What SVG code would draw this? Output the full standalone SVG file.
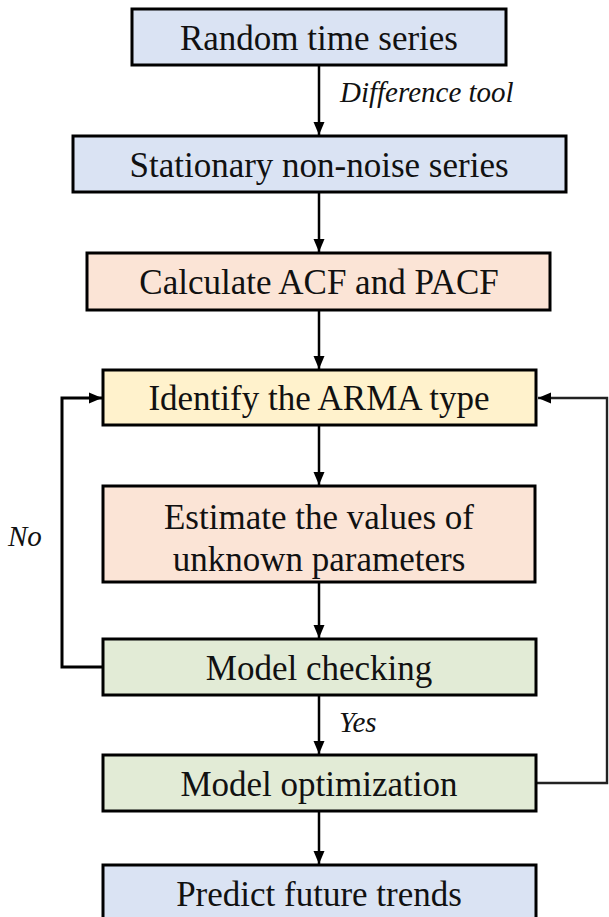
<svg xmlns="http://www.w3.org/2000/svg" width="609" height="917" viewBox="0 0 609 917">
<style>
.box{stroke:#000;stroke-width:3}
.t{font-size:35px;fill:#111;text-anchor:middle}
.lbl{font-size:29px;font-style:italic;fill:#111}
.c{fill:none;stroke:#000;stroke-width:2.5}
</style>
<defs>
<marker id="ah" markerUnits="userSpaceOnUse" markerWidth="14" markerHeight="14" viewBox="0 0 14 14" refX="13" refY="7" orient="auto">
<path d="M0,1.5 L13,7 L0,12.5 Z" fill="#000"/>
</marker>
</defs>
<rect width="609" height="917" fill="#fff"/>
<g id="connectors" font-family="Liberation Serif, Times New Roman, DejaVu Serif, serif">
<line class="c" x1="319" y1="65" x2="319" y2="135" marker-end="url(#ah)"/>
<line class="c" x1="319" y1="192" x2="319" y2="252" marker-end="url(#ah)"/>
<line class="c" x1="319" y1="310" x2="319" y2="369" marker-end="url(#ah)"/>
<line class="c" x1="319" y1="425" x2="319" y2="485" marker-end="url(#ah)"/>
<line class="c" x1="319" y1="582" x2="319" y2="638" marker-end="url(#ah)"/>
<line class="c" x1="319" y1="695" x2="319" y2="754" marker-end="url(#ah)"/>
<line class="c" x1="319" y1="811" x2="319" y2="864" marker-end="url(#ah)"/>
<polyline class="c" points="103,667 62,667 62,398 102,398" marker-end="url(#ah)" style="stroke-width:3"/>
<polyline class="c" points="537,783 607,783 607,398 538,398" marker-end="url(#ah)" style="stroke:#222;stroke-width:2.4"/>
<text class="lbl" x="340" y="102">Difference tool</text>
<text class="lbl" x="8" y="546">No</text>
<text class="lbl" x="339" y="732">Yes</text>
</g>
<g font-family="Liberation Serif, Times New Roman, DejaVu Serif, serif">
<g id="n1"><rect class="box" x="132" y="9" width="374" height="56" fill="#dae3f3"/><text class="t" x="319" y="50">Random time series</text></g>
<g id="n2"><rect class="box" x="73" y="136" width="493" height="56" fill="#dae3f3"/><text class="t" x="319" y="177">Stationary non-noise series</text></g>
<g id="n3"><rect class="box" x="87" y="253" width="463" height="57" fill="#fbe4d6"/><text class="t" x="319" y="294">Calculate ACF and PACF</text></g>
<g id="n4"><rect class="box" x="103" y="370" width="433" height="55" fill="#fff2cc"/><text class="t" x="319" y="410">Identify the ARMA type</text></g>
<g id="n5"><rect class="box" x="103" y="486" width="432" height="96" fill="#fbe4d6"/><text class="t" x="319" y="529">Estimate the values of</text><text class="t" x="319" y="571">unknown parameters</text></g>
<g id="n6"><rect class="box" x="103" y="639" width="433" height="56" fill="#e2ebd6"/><text class="t" x="319" y="680">Model checking</text></g>
<g id="n7"><rect class="box" x="103" y="755" width="433" height="56" fill="#e2ebd6"/><text class="t" x="319" y="796">Model optimization</text></g>
<g id="n8"><rect class="box" x="103" y="865" width="433" height="60" fill="#dae3f3"/><text class="t" x="319" y="906">Predict future trends</text></g>
</g>
</svg>
